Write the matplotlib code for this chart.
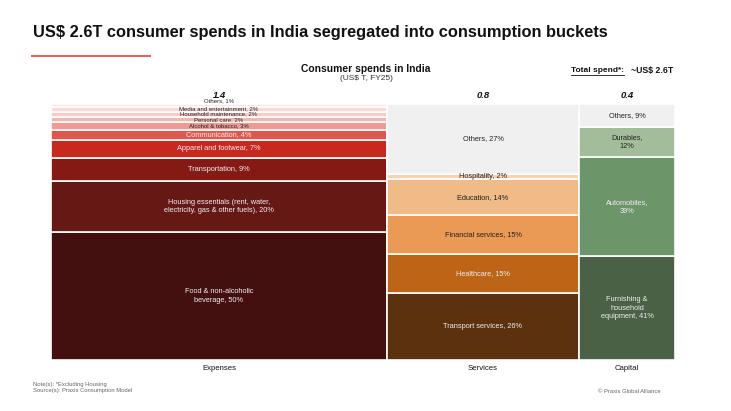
#!/usr/bin/env python3

import matplotlib
matplotlib.use("Agg")
import matplotlib.pyplot as plt

plt.rcParams['font.family'] = ['Liberation Sans', 'DejaVu Sans']

# column totals (US$ T, FY25)
bucket_names = ['Expenses', 'Services', 'Capital']
bucket_totals = [1.4, 0.8, 0.4]

# shares within each bucket, bottom to top
expenses_labels = ['Food & non-alcoholic\nbeverage', 'Housing essentials (rent, water,\nelectricity, gas & other fuels)',
                   'Transportation', 'Apparel and footwear', 'Communication', 'Alcohol & tobacco',
                   'Personal care', 'Household maintenance', 'Media and entertainment', 'Others']
expenses_share = [50, 20, 9, 7, 4, 3, 2, 2, 2, 1]

services_labels = ['Transport services', 'Healthcare', 'Financial services', 'Education',
                   'Hospitality', 'Others']
services_share = [26, 15, 15, 14, 2, 27]

capital_labels = ['Furnishing &\nhousehold\nequipment', 'Automobiles,\n', 'Durables,\n', 'Others']
capital_share = [41, 39, 12, 9]

expenses_colors = ['#44100f', '#661815', '#851a15', '#c8281e', '#e2574d',
                   '#ef9a92', '#f4b5af', '#f8cbc7', '#fad9d6', '#fde7e5']
services_colors = ['#5c320e', '#bd6417', '#eb9a55', '#f1bb88', '#f6d3b3', '#f0f0f0']
capital_colors = ['#4a6145', '#6d956a', '#a3bd9b', '#f0f0f0']

light_text = '#f2ecf2'
dark_text = '#222222'


def label_color(fill):
    r = int(fill[1:3], 16)
    g = int(fill[3:5], 16)
    b = int(fill[5:7], 16)
    lum = 0.299 * r + 0.587 * g + 0.114 * b
    return dark_text if lum > 170 else light_text


def draw_bucket(ax, x0, width, labels, shares, colors, small_font):
    total = sum(shares)
    bottom = 0.0
    for lab, sh, col in zip(labels, shares, colors):
        h = sh / total * 100
        ax.bar(x0, h, width=width, bottom=bottom, align='edge', color=col,
               edgecolor='white', linewidth=1.2)
        if lab.endswith('\n'):
            text = f"{lab}{sh}%"
        else:
            text = f"{lab}, {sh}%"
        fs = 4.3 if sh <= 3 and small_font else 5.3
        yc = bottom + h / 2
        if sh == 1:
            yc = bottom + h + 1.2
        ax.text(x0 + width / 2, yc, text, ha='center', va='center',
                fontsize=fs, color=label_color(col), linespacing=1.35)
        bottom += h


def build_graph(output_file):
    fig = plt.figure(figsize=(7.31, 4.11), dpi=100)
    ax = fig.add_axes([51 / 731, 1 - 360 / 411, 624 / 731, 256 / 411])

    widths = bucket_totals
    starts = [0, widths[0], widths[0] + widths[1]]
    draw_bucket(ax, starts[0], widths[0], expenses_labels, expenses_share, expenses_colors, True)
    draw_bucket(ax, starts[1], widths[1], services_labels, services_share, services_colors, False)
    draw_bucket(ax, starts[2], widths[2], capital_labels, capital_share, capital_colors, False)

    ax.set_xlim(0, sum(widths))
    ax.set_ylim(0, 100)
    ax.axis('off')

    # bucket totals above and names below
    for s, w, t, n in zip(starts, widths, bucket_totals, bucket_names):
        ax.text(s + w / 2, 103.5, f"{t}", ha='center', va='center', fontsize=6.8,
                fontweight='bold', fontstyle='italic', color='#111111')
        ax.text(s + w / 2, -3.2, n, ha='center', va='center', fontsize=5.6, color='#111111')

    # titles and notes
    fig.text(33 / 731, 1 - 33 / 411, "US$ 2.6T consumer spends in India segregated into consumption buckets",
             fontsize=11.8, fontweight='bold', va='center', ha='left', color='#111111')
    fig.add_artist(plt.Line2D([32 / 731, 150 / 731], [1 - 56 / 411, 1 - 56 / 411],
                              color='#ef5b55', linewidth=1.4))
    fig.text(366 / 731, 1 - 68.5 / 411, "Consumer spends in India", fontsize=7.4,
             fontweight='bold', ha='center', va='center', color='#111111')
    fig.text(366 / 731, 1 - 78.5 / 411, "(US$ T, FY25)", fontsize=6.0,
             ha='center', va='center', color='#333333')
    total_txt = fig.text(571 / 731, 1 - 71 / 411, "Total spend*:", fontsize=6.0,
                         fontweight='bold', ha='left', va='center', color='#111111')
    fig.text(673 / 731, 1 - 71 / 411, "~US$ 2.6T", fontsize=6.3, fontweight='bold',
             ha='right', va='center', color='#111111')

    # underline under "Total spend*:"
    renderer = fig.canvas.get_renderer()
    bb = total_txt.get_window_extent(renderer).transformed(fig.transFigure.inverted())
    fig.add_artist(plt.Line2D([bb.x0, bb.x1], [bb.y0 - 0.002, bb.y0 - 0.002],
                              color='#111111', linewidth=0.6))

    fig.text(33 / 731, 1 - 384 / 411, "Note(s): *Excluding Housing", fontsize=4.2,
             ha='left', va='center', color='#666666')
    fig.text(33 / 731, 1 - 390 / 411, "Source(s): Praxis Consumption Model", fontsize=4.2,
             ha='left', va='center', color='#666666')
    fig.text(598 / 731, 1 - 391 / 411, "\u00a9 Praxis Global Alliance", fontsize=4.2,
             ha='left', va='center', color='#666666')

    fig.savefig(output_file, dpi=100, facecolor='white')


if __name__ == "__main__":
    build_graph("out.png")
